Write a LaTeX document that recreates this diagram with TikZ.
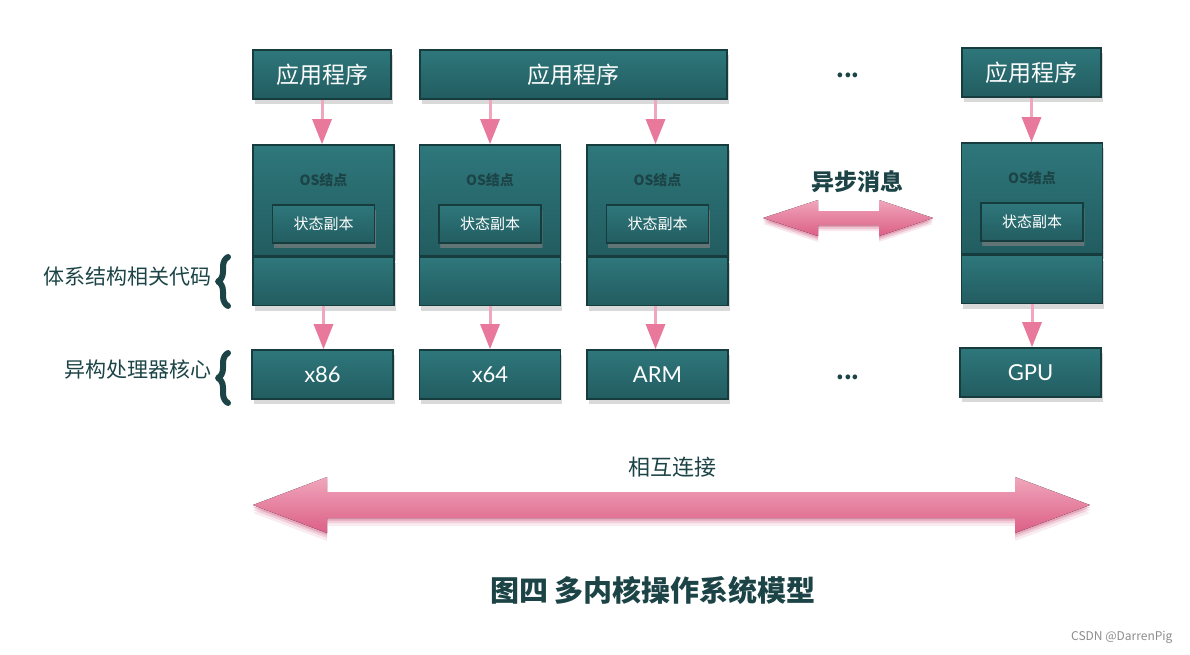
\documentclass[tikz,border=0pt]{standalone}
\usepackage{fontspec}
\setmainfont{Noto Sans CJK SC}
\newfontfamily\lat{Lato}
\usetikzlibrary{arrows.meta,shadows,decorations.pathreplacing}
\definecolor{tealT}{HTML}{2E777B}
\definecolor{tealB}{HTML}{225C60}
\definecolor{tealD}{HTML}{163C3E}
\definecolor{ink}{HTML}{1C4446}
\definecolor{pinkA}{HTML}{E8789C}
\definecolor{pinkL}{HTML}{F0A6BC}
\definecolor{pinkM}{HTML}{DC5F86}
\definecolor{pinkD}{HTML}{C94470}
\tikzset{
  tealbox/.style={draw=tealD, line width=1.6pt, top color=tealT, bottom color=tealB,
    drop shadow={shadow xshift=1.5pt, shadow yshift=-5pt, opacity=0.3},
    inner sep=0pt, text=white, align=center},
  appbox/.style={tealbox, minimum height=49pt, font=\fontsize{23}{23}\selectfont},
  osbox/.style={tealbox, minimum width=141pt, minimum height=111pt},
  archbox/.style={tealbox, minimum width=141pt, minimum height=48pt},
  statebox/.style={tealbox, minimum width=102pt, minimum height=38pt,
    drop shadow={shadow xshift=1pt, shadow yshift=-5pt, opacity=0.55},
    font=\fontsize{15}{15}\selectfont},
  procbox/.style={tealbox, minimum width=141pt, minimum height=49pt, font=\lat\fontsize{22}{22}\selectfont},
  oslabel/.style={text=ink, font=\bfseries\fontsize{14}{14}\selectfont},
  sidelabel/.style={text=ink, font=\fontsize{21}{21}\selectfont, anchor=east, inner sep=0pt},
  bracestyle/.style={draw=ink, line width=6pt, line cap=round, line join=round, decorate, decoration={brace, amplitude=10pt}},
  conn/.style={draw=pinkL, line width=3pt, -{Triangle[width=19pt,length=25pt,color=pinkA]}},
  dots/.style={text=ink, font=\bfseries\fontsize{22}{22}\selectfont},
}
\begin{document}
\begin{tikzpicture}[x=1pt,y=-1pt]
\useasboundingbox (0,0) rectangle (1190,655);
% application boxes
\node[appbox, minimum width=138pt] (app1) at (322,74.5) {应用程序};
\node[appbox, minimum width=307pt] (app2) at (573.5,74.5) {应用程序};
\node[appbox, minimum width=139pt] (app3) at (1031.5,72.5) {应用程序};
\node[dots] (dotsA) at (848,75) {...};
% OS nodes
\foreach \n/\x/\y in {1/323.5/200.5, 2/490/200.5, 3/657.5/200.5, 4/1032/198.5}{
  \node[osbox] (os\n) at (\x,\y) {};
  \node[archbox, anchor=north] (arch\n) at (os\n.south) {};
  \node[oslabel] (osl\n) at ([yshift=-36pt]os\n.north) {OS结点};
  \node[statebox] (st\n) at ([yshift=-80pt]os\n.north) {状态副本};
}
% processors
\node[procbox] (x86) at (322.5,374.5) {x86};
\node[procbox] (x64) at (490,374.5) {x64};
\node[procbox] (arm) at (657.5,374.5) {ARM};
\node[procbox] (gpu) at (1030.5,372.5) {GPU};
\node[dots] (dotsB) at (848,377) {...};
% connectors
\draw[conn] (app1.south) -- (app1.south |- os1.north);
\draw[conn] (os2.north |- app2.south) -- (os2.north);
\draw[conn] ([xshift=-2pt]os3.north |- app2.south) -- ([xshift=-2pt]os3.north);
\draw[conn] (app3.south) -- (app3.south |- os4.north);
\draw[conn] (arch1.south) -- (arch1.south |- x86.north);
\draw[conn] (arch2.south) -- (arch2.south |- x64.north);
\draw[conn] ([xshift=-2pt]arch3.south) -- ([xshift=-2pt]arch3.south |- arm.north);
\draw[conn] (arch4.south) -- (arch4.south |- gpu.north);
% side labels
\node[sidelabel] (lab1) at (212,277) {体系结构相关代码};
\node[sidelabel] (lab2) at (212,370) {异构处理器核心};
\coordinate (b1a) at (228,306); \coordinate (b1b) at (228,257);
\coordinate (b2a) at (228,403); \coordinate (b2b) at (228,353);
\draw[bracestyle] (b1a) -- (b1b);
\draw[bracestyle] (b2a) -- (b2b);
% async message arrow
\node[text=ink, font=\bfseries\fontsize{23}{23}\selectfont] (msg) at (857,182) {异步消息};
\foreach \s/\o in {6/0.12,4/0.2,2/0.3}{
  \fill[pinkD, opacity=\o] (763,218+\s) -- (818,200+\s) -- (818,211+\s) -- (879,211+\s) -- (879,200+\s) -- (933,218+\s) -- (879,236+\s) -- (879,225+\s) -- (818,225+\s) -- (818,236+\s) -- cycle;
}
\fill[top color=pinkL, bottom color=pinkM] (763,218) -- (818,200) -- (818,211) -- (879,211) -- (879,200) -- (933,218) -- (879,236) -- (879,225) -- (818,225) -- (818,236) -- cycle;
% interconnect arrow
\node[text=ink, font=\fontsize{22}{22}\selectfont] (inter) at (672,467) {相互连接};
\foreach \s/\o in {8/0.1,5/0.18,2.5/0.28}{
  \fill[pinkD, opacity=\o] (253,505+\s) -- (327,477+\s) -- (327,492+\s) -- (1015,492+\s) -- (1015,477+\s) -- (1090,505+\s) -- (1015,533+\s) -- (1015,518+\s) -- (327,518+\s) -- (327,533+\s) -- cycle;
}
\fill[top color=pinkL, bottom color=pinkM] (253,505) -- (327,477) -- (327,492) -- (1015,492) -- (1015,477) -- (1090,505) -- (1015,533) -- (1015,518) -- (327,518) -- (327,533) -- cycle;
% caption
\node[text=ink, font=\bfseries\fontsize{29}{29}\selectfont] (cap) at (653,590) {图四 多内核操作系统模型};
\node[text=black!45, font=\fontsize{12}{12}\selectfont, anchor=east] (wm) at (1176,637) {CSDN @DarrenPig};
\end{tikzpicture}
\end{document}
